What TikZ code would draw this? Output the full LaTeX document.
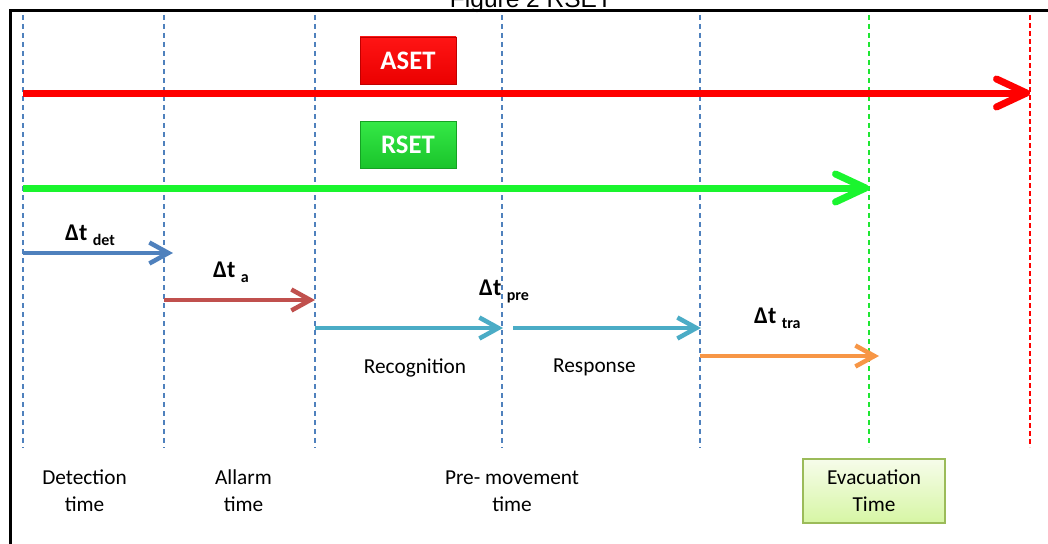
\documentclass[tikz,border=0pt]{standalone}
\usepackage{fontspec}
\setmainfont{Carlito}
\newfontfamily\arialf{Liberation Sans}
\usetikzlibrary{arrows.meta}
\definecolor{lblue}{RGB}{79,129,189}
\definecolor{lred}{RGB}{192,80,77}
\definecolor{lcyan}{RGB}{75,172,198}
\definecolor{lorange}{RGB}{247,150,70}
\definecolor{lgreen}{RGB}{26,245,46}
\definecolor{vgreen}{RGB}{30,230,50}
\definecolor{evtop}{RGB}{246,252,234}
\definecolor{evbot}{RGB}{214,246,164}
\definecolor{evborder}{RGB}{155,187,89}
\tikzset{
  vline/.style={line width=1.4pt, dash pattern=on 5pt off 4pt},
  bigarrow/.style={line width=7pt, -{Straight Barb[length=30pt, width=28pt, round]}},
  smallarrow/.style={line width=4.5pt, -{Straight Barb[length=19pt, width=21pt]}},
  labelbox/.style={minimum width=96pt, minimum height=47pt, inner sep=0pt,
    text=white, font=\bfseries\fontsize{26.7}{30}\selectfont},
  dtlabel/.style={anchor=base west, inner sep=0pt, font=\bfseries\fontsize{24}{28}\selectfont},
  plain/.style={align=center, inner sep=0pt, font=\fontsize{21.3}{27}\selectfont},
}
\newcommand{\subtxt}[1]{\raisebox{-5pt}{\fontsize{16}{19}\selectfont #1}}
\begin{document}
\begin{tikzpicture}[x=1pt,y=-1pt]
\useasboundingbox (0,0) rectangle (1048,543);
% title
\node[anchor=base, inner sep=0pt, font=\arialf\fontsize{24.5}{28}\selectfont] (title) at (531,7.5) {Figure 2 RSET};
% frame
\draw[line width=3pt] (10.5,550) -- (10.5,11) -- (1055,11);
% vertical dashed lines
\foreach \n/\x in {1/23,2/164,3/315,4/502,5/700}{
  \coordinate (t\n) at (\x,15);
  \coordinate (b\n) at (\x,448);
  \draw[vline, lblue] (t\n) -- (b\n);
}
\coordinate (t6) at (869,15); \coordinate (b6) at (869,447);
\draw[vline, vgreen] (t6) -- (b6);
\coordinate (t7) at (1030,15); \coordinate (b7) at (1030,447);
\draw[red, line width=1.4pt, dash pattern=on 5pt off 3pt] (t7) -- (b7);
% boxes
\node[labelbox, top color=red!92!white, bottom color=red!92!black, draw=red!75!black, line width=0.8pt] (aset) at (408,60.5) {ASET};
\node[labelbox, top color=vgreen!90!white, bottom color=vgreen!85!black, draw=vgreen!70!black, line width=0.8pt] (rset) at (408,145) {RSET};
% arrow end points
\coordinate (ra) at (23,93);  \coordinate (rb) at (1030,93);
\coordinate (ga) at (23,188); \coordinate (gb) at (869,188);
\coordinate (ba) at (23,253); \coordinate (bb) at (173,253);
\coordinate (ma) at (164,300); \coordinate (mb) at (315,300);
\coordinate (ca) at (315,328); \coordinate (cb) at (503,328);
\coordinate (cc) at (513,328); \coordinate (cd) at (701,328);
\coordinate (oa) at (700,356); \coordinate (ob) at (879,356);
\draw[bigarrow, red] (ra) -- (rb);
\draw[bigarrow, lgreen] (ga) -- (gb);
\draw[smallarrow, lblue] (ba) -- (bb);
\draw[smallarrow, lred] (ma) -- (mb);
\draw[smallarrow, lcyan] (ca) -- (cb);
\draw[smallarrow, lcyan] (cc) -- (cd);
\draw[smallarrow, lorange] (oa) -- (ob);
% delta labels
\node[dtlabel] (ddet) at (65,240) {Δt \subtxt{det}};
\node[dtlabel] (da) at (213,277) {Δt \subtxt{a}};
\node[dtlabel] (dpre) at (479,295) {Δt \subtxt{pre}};
\node[dtlabel] (dtra) at (754,323) {Δt \subtxt{tra}};
% phase labels
\node[plain, anchor=base] (recog) at (415,373) {Recognition};
\node[plain, anchor=base] (resp) at (594.5,372) {Response};
% bottom labels
\node[plain] (det) at (84.5,491) {Detection\\time};
\node[plain] (alm) at (243.5,491) {Allarm\\time};
\node[plain] (pre) at (512,491) {Pre- movement\\time};
\node[plain, minimum width=142pt, minimum height=64pt, top color=evtop, bottom color=evbot, draw=evborder, line width=1.5pt] (evac) at (874,491) {Evacuation\\Time};
\end{tikzpicture}
\end{document}
